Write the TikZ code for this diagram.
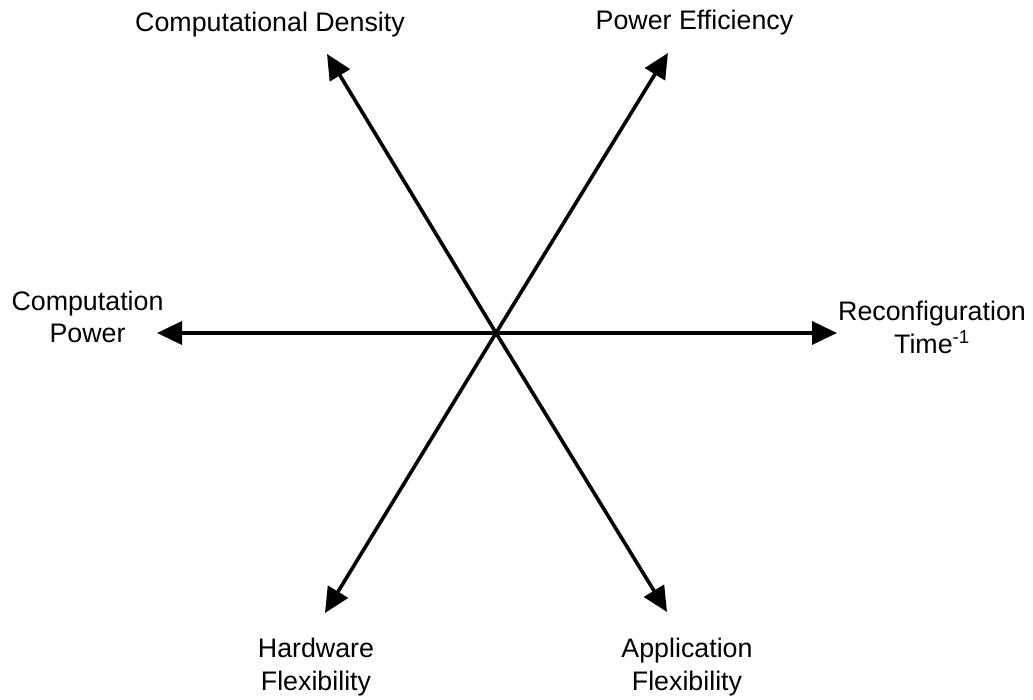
\documentclass[tikz,border=0pt]{standalone}
\usepackage{fontspec}
\setmainfont{Liberation Sans}
\usetikzlibrary{arrows.meta}
\begin{document}
\begin{tikzpicture}[x=1pt,y=-1pt,
  axis/.style={line width=3.6pt,-{Triangle[length=25pt,width=23pt]}},
  lbl/.style={inner sep=0pt,align=center,anchor=base,
    font=\fontsize{26.8}{32.5}\selectfont}]
  \useasboundingbox (0,0) rectangle (1033,700);
  % hub of the six axes
  \coordinate (c) at (496,333);
  \coordinate (eL)  at (157,333);
  \coordinate (eR)  at (837,333);
  \coordinate (eUL) at (327,54);
  \coordinate (eUR) at (668,53);
  \coordinate (eLL) at (325,613);
  \coordinate (eLR) at (667,612);
  \draw[axis] (c) -- (eL);
  \draw[axis] (c) -- (eR);
  \draw[axis] (c) -- (eUL);
  \draw[axis] (c) -- (eUR);
  \draw[axis] (c) -- (eLL);
  \draw[axis] (c) -- (eLR);
  % axis captions (base = baseline of the last line)
  \node[lbl] (tUL) at (270,32) {Computational Density};
  \node[lbl] (tUR) at (694.5,30) {Power Efficiency};
  \node[lbl] (tL)  at (87.5,343) {Computation\\Power};
  \node[lbl] (tR)  at (932,353) {Reconfiguration\\Time\textsuperscript{-1}};
  \node[lbl] (tLL) at (316,690) {Hardware\\Flexibility};
  \node[lbl] (tLR) at (687,690) {Application\\Flexibility};
\end{tikzpicture}
\end{document}
